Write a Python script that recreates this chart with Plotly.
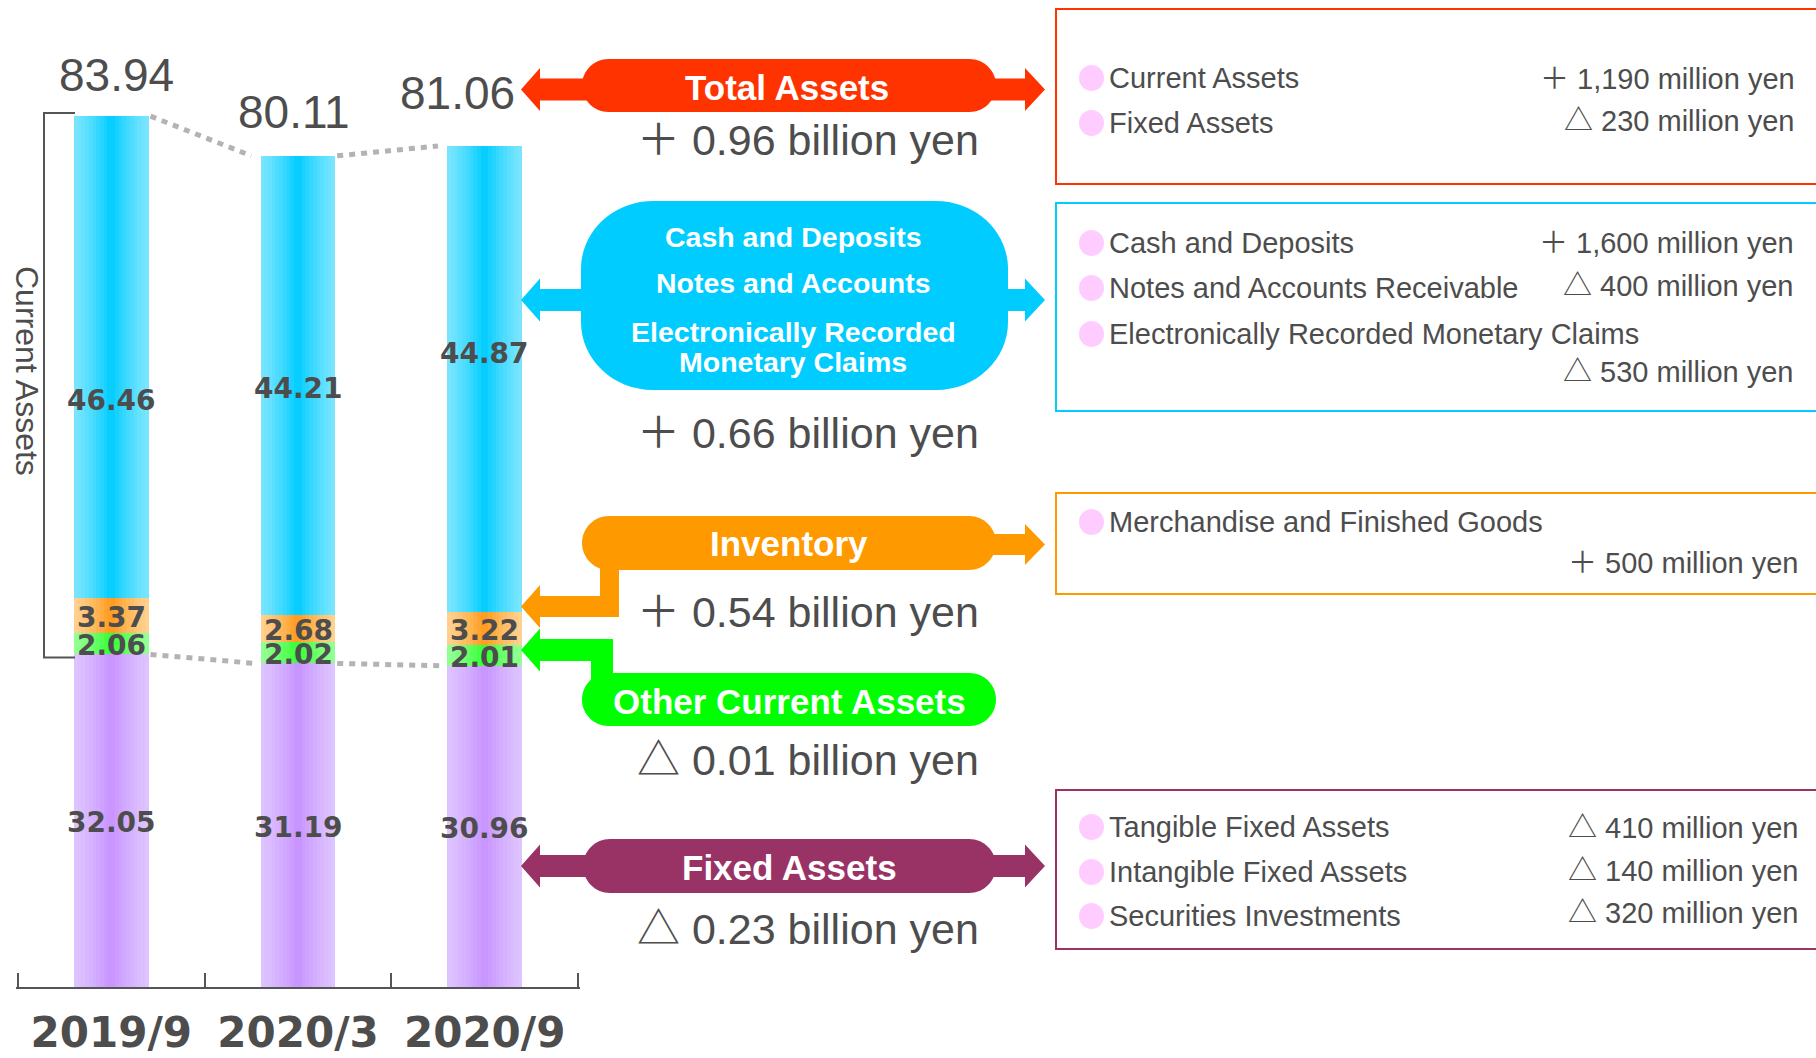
import plotly.graph_objects as go

# ---------------- data ----------------
categories = ["2019/9", "2020/3", "2020/9"]
fixed_assets = [32.05, 31.19, 30.96]
other_current = [2.06, 2.02, 2.01]
inventory = [3.37, 2.68, 3.22]
cash_receivables = [46.46, 44.21, 44.87]
totals = [83.94, 80.11, 81.06]

pill_titles = ["Total Assets", "Inventory", "Other Current Assets", "Fixed Assets"]
cash_pill_lines = ["Cash and Deposits", "Notes and Accounts",
                   "Electronically Recorded", "Monetary Claims"]
change_labels = ["＋ 0.96 billion yen", "＋ 0.66 billion yen", "＋ 0.54 billion yen",
                 "△ 0.01 billion yen", "△ 0.23 billion yen"]

box_total_items = ["Current Assets", "Fixed Assets"]
box_total_values = ["＋ 1,190 million yen", "△ 230 million yen"]
box_cash_items = ["Cash and Deposits", "Notes and Accounts Receivable",
                  "Electronically Recorded Monetary Claims"]
box_cash_values = ["＋ 1,600 million yen", "△ 400 million yen", "△ 530 million yen"]
box_inv_items = ["Merchandise and Finished Goods"]
box_inv_values = ["＋ 500 million yen"]
box_fixed_items = ["Tangible Fixed Assets", "Intangible Fixed Assets", "Securities Investments"]
box_fixed_values = ["△ 410 million yen", "△ 140 million yen", "△ 320 million yen"]

side_label = "Current Assets"

# ---------------- helpers ----------------
W, H = 1816, 1058
GRAY = "#4d4d4d"
SANS = "Liberation Sans, Arial, Noto Sans CJK JP, sans-serif"
BOLDW = "DejaVu Sans, Liberation Sans, sans-serif"


def px(x):
    return x / W


def py(y):
    return 1 - y / H


def pt(x, y):
    return f"{px(x):.5f},{py(y):.5f}"


def poly(points, close=True):
    return "M " + " L ".join(pt(*p) for p in points) + (" Z" if close else "")


def rrect(x0, y0, x1, y1, rx, ry):
    k = 0.5523
    return (f"M {pt(x0 + rx, y0)} L {pt(x1 - rx, y0)} "
            f"C {pt(x1 - rx + k * rx, y0)} {pt(x1, y0 + ry - k * ry)} {pt(x1, y0 + ry)} "
            f"L {pt(x1, y1 - ry)} "
            f"C {pt(x1, y1 - ry + k * ry)} {pt(x1 - rx + k * rx, y1)} {pt(x1 - rx, y1)} "
            f"L {pt(x0 + rx, y1)} "
            f"C {pt(x0 + rx - k * rx, y1)} {pt(x0, y1 - ry + k * ry)} {pt(x0, y1 - ry)} "
            f"L {pt(x0, y0 + ry)} "
            f"C {pt(x0, y0 + ry - k * ry)} {pt(x0 + rx - k * rx, y0)} {pt(x0 + rx, y0)} Z")


def hexrgb(h):
    h = h.lstrip("#")
    return tuple(int(h[i:i + 2], 16) for i in (0, 2, 4))


def mix(c1, c2, t):
    a, b = hexrgb(c1), hexrgb(c2)
    return "rgb(%d,%d,%d)" % tuple(round(a[i] + (b[i] - a[i]) * t) for i in range(3))


def note(x, y, text, size, color=GRAY, family=SANS, xanchor="center", weight="normal", **kw):
    return dict(x=px(x), y=py(y), xref="paper", yref="paper", text=text, showarrow=False,
                xanchor=xanchor, yanchor="middle",
                font=dict(family=family, size=size, color=color, weight=weight), **kw)


fig = go.Figure()

# ---------------- gradient stacked bars ----------------
segments = [
    (fixed_assets, "#DDC4FF", "#C893FF"),
    (other_current, "#94FF94", "#33FF33"),
    (inventory, "#FFD190", "#FF9A1A"),
    (cash_receivables, "#7AE5FF", "#00CCFF"),
]
BAR_W = 0.4
N = 20
base = [0.0] * len(categories)
mids = []
for vals, edge, center in segments:
    for k in range(N):
        t = (k + 0.5) / N
        d = 1 - abs(t - 0.5) * 2  # 0 at edges, 1 at center
        col = mix(edge, center, d ** 1.3)
        w = BAR_W / N
        fig.add_trace(go.Bar(
            x=categories, y=vals, base=list(base),
            offset=-BAR_W / 2 + k * w, width=w * (1.0 if k == N - 1 else 1.15),
            marker=dict(color=col, line=dict(width=0)),
            hoverinfo="skip", showlegend=False,
        ))
    mids.append([b + v / 2 for b, v in zip(base, vals)])
    base = [b + v for b, v in zip(base, vals)]

annotations = []
seg_vals = [fixed_assets, other_current, inventory, cash_receivables]
cyan_shift = [-43, -3, 25]
for si, vals in enumerate(seg_vals):
    for ci, cat in enumerate(categories):
        ys = cyan_shift[ci] if si == 3 else -2
        annotations.append(dict(
            x=cat, y=mids[si][ci], xref="x", yref="y", text=f"{vals[ci]:.2f}",
            showarrow=False, yshift=ys, xanchor="center", yanchor="middle",
            font=dict(family=BOLDW, size=28, color=GRAY, weight="bold")))

tot_xshift = [5, -4, -27]
tot_yshift = [41, 44, 53]
for ci, cat in enumerate(categories):
    annotations.append(dict(
        x=cat, y=totals[ci], xref="x", yref="y", text=f"{totals[ci]:.2f}",
        showarrow=False, xshift=tot_xshift[ci], yshift=tot_yshift[ci],
        xanchor="center", yanchor="middle",
        font=dict(family=SANS, size=46, color=GRAY)))

shapes = []
# dotted connectors
for i in range(len(categories) - 1):
    shapes.append(dict(type="line", xref="x", yref="y",
                       x0=i + BAR_W / 2 + 0.01, y0=totals[i], x1=i + 1 - BAR_W / 2 - 0.05, y1=totals[i + 1],
                       line=dict(color="#B3B3B3", width=5, dash="6px,6px")))
    shapes.append(dict(type="line", xref="x", yref="y",
                       x0=i + BAR_W / 2 + 0.01, y0=fixed_assets[i], x1=i + 1 - BAR_W / 2 - 0.03,
                       y1=fixed_assets[i + 1],
                       line=dict(color="#B3B3B3", width=5, dash="6px,6px")))

# current-assets bracket
shapes.append(dict(type="path", xref="paper", yref="y",
                   path=(f"M {px(75):.5f},{totals[0] + 0.3} L {px(44):.5f},{totals[0] + 0.3} "
                         f"L {px(44):.5f},{fixed_assets[0] - 0.3} L {px(75):.5f},{fixed_assets[0] - 0.3}"),
                   line=dict(color="#555555", width=2)))
annotations.append(note(27, 371, side_label, 32, textangle=90))

# ---------------- middle: pills and arrows ----------------
LT, LB = 521, 540      # left arrow tip / head base
RB, RT = 1025, 1045    # right arrow head base / tip


def double_arrow(x0, x1, cy, color):
    hs, hh = 11, 21.5
    left = poly([(x0 + 20, cy - hs), (LB, cy - hs), (LB, cy - hh), (LT, cy), (LB, cy + hh),
                 (LB, cy + hs), (x0 + 20, cy + hs)])
    right = poly([(x1 - 20, cy - hs), (RB, cy - hs), (RB, cy - hh), (RT, cy), (RB, cy + hh),
                  (RB, cy + hs), (x1 - 20, cy + hs)])
    return [dict(type="path", xref="paper", yref="paper", path=p, fillcolor=color,
                 line=dict(width=0)) for p in (left, right)]


def right_arrow(x1, cy, color):
    hs, hh = 10.5, 20.5
    p = poly([(x1 - 20, cy - hs), (RB, cy - hs), (RB, cy - hh), (RT, cy), (RB, cy + hh),
              (RB, cy + hs), (x1 - 20, cy + hs)])
    return dict(type="path", xref="paper", yref="paper", path=p, fillcolor=color, line=dict(width=0))


def pill(x0, y0, x1, y1, color, rx=None, ry=None):
    r = (y1 - y0) / 2
    return dict(type="path", xref="paper", yref="paper",
                path=rrect(x0, y0, x1, y1, rx or r, ry or r), fillcolor=color, line=dict(width=0))


RED, CYAN, ORANGE, GREEN, PLUM = "#FF3300", "#00CCFF", "#FF9900", "#00FF00", "#993366"

# Total assets
shapes += double_arrow(582, 996, 89.5, RED)
shapes.append(pill(582, 59, 996, 112, RED))
# Cash
shapes += double_arrow(581, 1008, 300, CYAN)
shapes.append(pill(581, 201, 1008, 390, CYAN, rx=72, ry=68))
# Inventory
shapes.append(right_arrow(996, 544.5, ORANGE))
shapes.append(dict(type="path", xref="paper", yref="paper",
                   path=poly([(619, 560), (619, 617), (LB, 617), (LB, 628), (LT, 606.5), (LB, 585),
                              (LB, 596), (600, 596), (600, 560)]),
                   fillcolor=ORANGE, line=dict(width=0)))
shapes.append(pill(582, 516, 996, 570, ORANGE))
# Other current assets
shapes.append(dict(type="path", xref="paper", yref="paper",
                   path=poly([(591, 685), (591, 661), (LB, 661), (LB, 671.5), (LT, 650), (LB, 628.5),
                              (LB, 639), (613, 639), (613, 685)]),
                   fillcolor=GREEN, line=dict(width=0)))
shapes.append(pill(582, 673, 996, 726, GREEN))
# Fixed assets
shapes += double_arrow(583, 996, 866, PLUM)
shapes.append(pill(583, 839, 996, 893, PLUM))

pill_text_pos = [(787, 87), (789, 543), (789, 701), (789, 867)]
for txt, (x, y) in zip(pill_titles, pill_text_pos):
    annotations.append(note(x, y, txt, 35, color="white", weight="bold"))
cash_line_y = [237, 283, 332, 362]
for txt, y in zip(cash_pill_lines, cash_line_y):
    annotations.append(note(793, y, txt, 28.5, color="white", weight="bold"))

change_y = [140, 433, 612, 760, 929]
for txt, y in zip(change_labels, change_y):
    annotations.append(note(981, y, txt, 43, xanchor="right"))

# ---------------- right boxes (open on the right: they run off the page) ----------------
boxes = [
    (9, 184, RED, box_total_items, [78, 123], box_total_values, [79, 121], 1797),
    (203, 411, CYAN, box_cash_items, [243, 288, 334], box_cash_values, [243, 286, 372], 1796),
    (493, 594, ORANGE, box_inv_items, [522], box_inv_values, [563], 1801),
    (790, 949, PLUM, box_fixed_items, [827, 872, 916], box_fixed_values, [828, 871, 913], 1801),
]
for y0, y1, col, items, iy, values, vy, rx in boxes:
    shapes.append(dict(type="path", xref="paper", yref="paper",
                       path=poly([(1816, y0), (1056, y0), (1056, y1), (1816, y1)], close=False),
                       line=dict(color=col, width=2)))
    for txt, y in zip(items, iy):
        shapes.append(dict(type="circle", xref="paper", yref="paper", x0=px(1079), x1=px(1104),
                           y0=py(y + 13), y1=py(y - 13), fillcolor="#FFCCFF", line=dict(width=0)))
        annotations.append(note(1107, y, txt, 29, xanchor="left"))
    for txt, y in zip(values, vy):
        annotations.append(note(rx, y, txt, 29, xanchor="right"))

D = 0.01
fig.update_layout(
    width=W, height=H, margin=dict(l=0, r=0, t=0, b=0, pad=0, autoexpand=False),
    paper_bgcolor="white", plot_bgcolor="white",
    barmode="overlay", bargap=0, showlegend=False,
    shapes=shapes, annotations=annotations,
    xaxis=dict(type="category", domain=[px(18 - 186.67 * D), px(578 + 186.67 * D)],
               range=[-0.5 - D, 2.5 + D], automargin=False,
               showgrid=False, zeroline=False, showline=True, linecolor="#555555", linewidth=2,
               ticks="inside", tickson="boundaries", ticklen=14, tickwidth=2, tickcolor="#555555",
               ticklabelstandoff=8,
               tickfont=dict(family=BOLDW, size=42, color=GRAY, weight="bold")),
    yaxis=dict(domain=[py(987), 1], range=[0, 987 / 10.375], visible=False, automargin=False,
               showgrid=False, zeroline=False),
)

post = ("var de=document.documentElement, b=document.body;"
        "de.style.margin='0';de.style.padding='0';de.style.overflow='hidden';"
        "b.style.margin='0';b.style.padding='0';b.style.overflow='hidden';")
fig.write_html("out.html", config={"displayModeBar": False}, post_script=post)
